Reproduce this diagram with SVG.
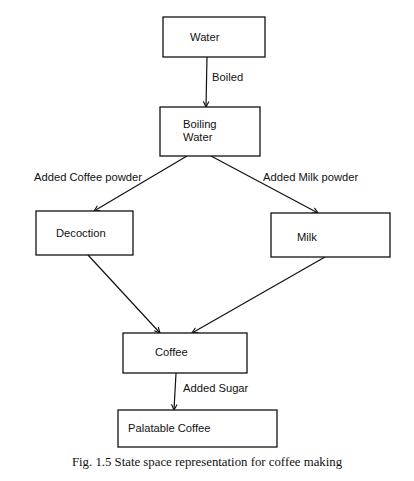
<svg xmlns="http://www.w3.org/2000/svg" width="414" height="481" viewBox="0 0 414 481">
<style>
.box{fill:#fff;stroke:#111;stroke-width:1.3}
.lbl{font-family:"Liberation Sans",Arial,sans-serif;font-size:11.2px;fill:#111}
.edge{stroke:#111;stroke-width:1.2;fill:none;marker-end:url(#arr)}
.cap{font-family:"Liberation Serif","Times New Roman",serif;font-size:12.8px;fill:#111}
</style>
<defs>
<marker id="arr" viewBox="0 0 10 10" refX="9" refY="5" markerWidth="7" markerHeight="7" orient="auto" markerUnits="userSpaceOnUse">
<path d="M1,1 L9,5 L1,9" fill="none" stroke="#111" stroke-width="1.6"/>
</marker>
</defs>
<rect width="414" height="481" fill="#fff"/>
<g id="connectors">
<line class="edge" x1="207" y1="57" x2="206" y2="107"/>
<text class="lbl" x="212" y="81">Boiled</text>
<line class="edge" x1="187" y1="156" x2="94" y2="211"/>
<text class="lbl" x="34" y="181">Added Coffee powder</text>
<line class="edge" x1="211" y1="156" x2="318" y2="213"/>
<text class="lbl" x="263" y="181">Added Milk powder</text>
<line class="edge" x1="88" y1="255" x2="160" y2="333"/>
<line class="edge" x1="325" y1="257" x2="192" y2="333"/>
<line class="edge" x1="176" y1="373" x2="174" y2="410"/>
<text class="lbl" x="183" y="392">Added Sugar</text>
</g>
<g id="water">
<rect class="box" x="163" y="17" width="102" height="40"/>
<text class="lbl" x="190" y="41">Water</text>
</g>
<g id="boiling-water">
<rect class="box" x="160" y="107" width="100" height="49"/>
<text class="lbl" x="183" y="128">Boiling</text>
<text class="lbl" x="183" y="141">Water</text>
</g>
<g id="decoction">
<rect class="box" x="36" y="211" width="97" height="44"/>
<text class="lbl" x="56" y="237">Decoction</text>
</g>
<g id="milk">
<rect class="box" x="271" y="213" width="119" height="44"/>
<text class="lbl" x="297" y="241">Milk</text>
</g>
<g id="coffee">
<rect class="box" x="123" y="333" width="124" height="40"/>
<text class="lbl" x="155" y="356">Coffee</text>
</g>
<g id="palatable-coffee">
<rect class="box" x="118" y="410" width="159" height="37"/>
<text class="lbl" x="128" y="432">Palatable Coffee</text>
</g>
<text class="cap" x="207" y="466" text-anchor="middle">Fig. 1.5 State space representation for coffee making</text>
</svg>
